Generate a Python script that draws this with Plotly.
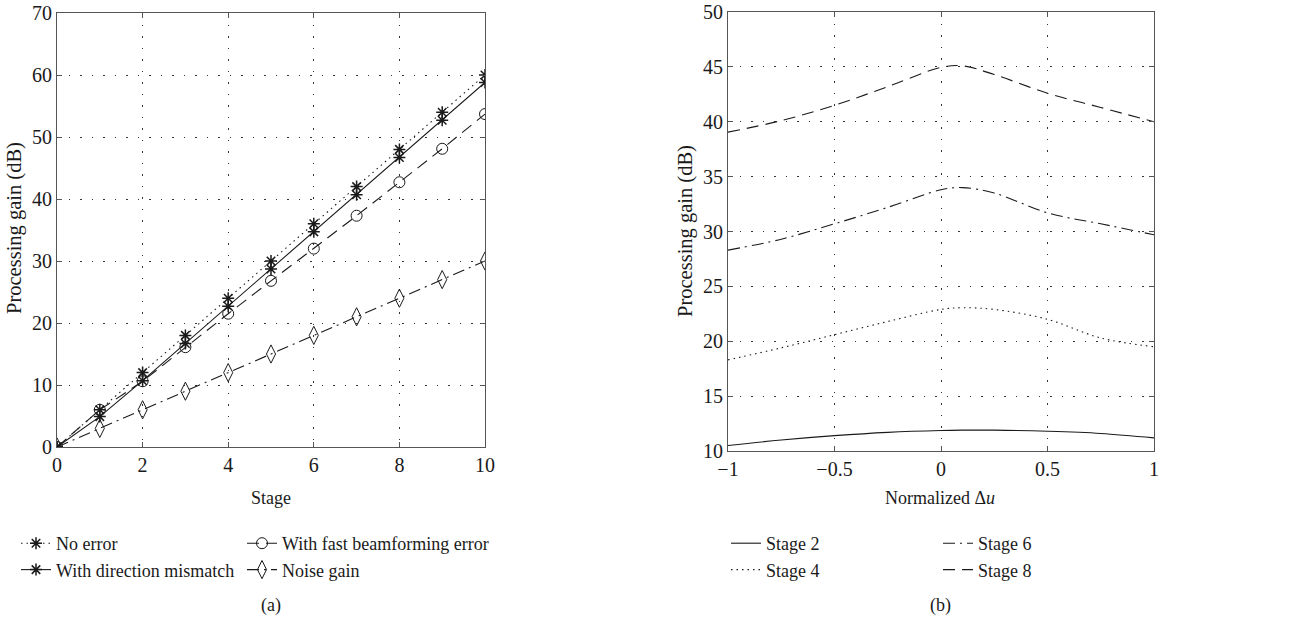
import plotly.graph_objects as go

# ---------- data (a) ----------
stage = [0, 1, 2, 3, 4, 5, 6, 7, 8, 9, 10]
no_error = [0, 6, 12, 18, 24, 30, 36, 42, 48, 54, 60]
dir_mismatch = [0, 4.9, 10.7, 16.7, 22.7, 28.7, 34.7, 40.7, 46.7, 52.7, 58.8]
fast_bf = [0, 6.0, 10.6, 16.1, 21.5, 26.8, 32.0, 37.3, 42.7, 48.1, 53.7]
noise_gain = [0, 3, 6, 9, 12, 15, 18, 21, 24, 27, 30]

# ---------- data (b) ----------
du = [-1, -0.75, -0.5, -0.25, 0, 0.1, 0.25, 0.5, 0.75, 1]
stage2 = [10.5, 11.0, 11.4, 11.7, 11.87, 11.9, 11.9, 11.8, 11.6, 11.2]
stage4 = [18.3, 19.4, 20.6, 21.8, 22.9, 23.05, 22.9, 22.0, 20.3, 19.5]
stage6 = [28.3, 29.3, 30.7, 32.2, 33.8, 34.0, 33.5, 31.7, 30.7, 29.7]
stage8 = [39.05, 40.1, 41.5, 43.2, 44.95, 45.1, 44.3, 42.6, 41.3, 40.0]

W, H = 1299, 632
FONT = "Liberation Serif"
BLK = "#1a1a1a"

DOT = "1.5px,4px"
DASH = "12px,7px"
DASHDOT = "12px,5px,2px,5px"


def px_x(p):
    return p / W


def px_y(p):
    return 1 - p / H


fig = go.Figure()

lw = 1.1
fig.add_trace(go.Scatter(x=stage, y=no_error, name="No error", mode="lines+markers",
                         line=dict(color=BLK, width=lw, dash=DOT),
                         marker=dict(symbol="asterisk-open", size=10, line=dict(color=BLK, width=1.5)),
                         xaxis="x", yaxis="y", legend="legend"))
fig.add_trace(go.Scatter(x=stage, y=dir_mismatch, name="With direction mismatch", mode="lines+markers",
                         line=dict(color=BLK, width=lw, dash="solid"),
                         marker=dict(symbol="asterisk-open", size=10, line=dict(color=BLK, width=1.5)),
                         xaxis="x", yaxis="y", legend="legend"))
fig.add_trace(go.Scatter(x=stage, y=fast_bf, name="With fast beamforming error", mode="lines+markers",
                         line=dict(color=BLK, width=lw, dash=DASH),
                         marker=dict(symbol="circle-open", size=11, color=BLK, line=dict(color=BLK, width=1)),
                         xaxis="x", yaxis="y", legend="legend2"))
fig.add_trace(go.Scatter(x=stage, y=noise_gain, name="Noise gain", mode="lines+markers",
                         line=dict(color=BLK, width=lw, dash=DASHDOT),
                         marker=dict(symbol="diamond-tall-open", size=13, color=BLK, line=dict(color=BLK, width=1)),
                         xaxis="x", yaxis="y", legend="legend2"))

fig.add_trace(go.Scatter(x=du, y=stage2, name="Stage 2", mode="lines", line_shape="spline",
                         line=dict(color=BLK, width=lw, dash="solid"),
                         xaxis="x2", yaxis="y2", legend="legend3"))
fig.add_trace(go.Scatter(x=du, y=stage4, name="Stage 4", mode="lines", line_shape="spline",
                         line=dict(color=BLK, width=lw, dash=DOT),
                         xaxis="x2", yaxis="y2", legend="legend3"))
fig.add_trace(go.Scatter(x=du, y=stage6, name="Stage 6", mode="lines", line_shape="spline",
                         line=dict(color=BLK, width=lw, dash=DASHDOT),
                         xaxis="x2", yaxis="y2", legend="legend4"))
fig.add_trace(go.Scatter(x=du, y=stage8, name="Stage 8", mode="lines", line_shape="spline",
                         line=dict(color=BLK, width=lw, dash=DASH),
                         xaxis="x2", yaxis="y2", legend="legend4"))

axis_common = dict(showline=True, linecolor="#555", linewidth=1.2, mirror="ticks",
                   ticks="inside", ticklen=5, tickcolor="#555", automargin=False,
                   ticklabeloverflow="allow",
                   showgrid=True, gridcolor="#333", griddash="1.5px,10px", gridwidth=1.2,
                   zeroline=False, tickfont=dict(family=FONT, size=20, color=BLK))

leg_common = dict(bgcolor="rgba(0,0,0,0)", font=dict(family=FONT, size=18, color=BLK),
                  orientation="v", xanchor="left", yanchor="top", tracegroupgap=0,
                  itemwidth=30, xref="container", yref="container")

fig.update_layout(
    width=W, height=H,
    margin=dict(l=0, r=0, t=0, b=0, autoexpand=False),
    paper_bgcolor="white", plot_bgcolor="white",
    font=dict(family=FONT, size=18, color=BLK),
    xaxis=dict(domain=[px_x(57), px_x(485)], range=[0, 10], dtick=2, anchor="y", **axis_common),
    yaxis=dict(domain=[px_y(447), px_y(13)], range=[0, 70], dtick=10, anchor="x", **axis_common),
    xaxis2=dict(domain=[px_x(728), px_x(1154)], range=[-1, 1], dtick=0.5, anchor="y2", **axis_common),
    yaxis2=dict(domain=[px_y(451), px_y(12)], range=[10, 50], dtick=5, anchor="x2", **axis_common),
    legend=dict(x=px_x(16), y=px_y(525), **leg_common),
    legend2=dict(x=px_x(242), y=px_y(525), **leg_common),
    legend3=dict(x=px_x(726), y=px_y(525), **leg_common),
    legend4=dict(x=px_x(938), y=px_y(525), **leg_common),
    showlegend=True,
)

ann = [
    dict(text="Stage", x=px_x(271), y=px_y(498), size=18),
    dict(text="Normalized Δ<i>u</i>", x=px_x(940), y=px_y(498), size=18),
    dict(text="(a)", x=px_x(271), y=px_y(605), size=18),
    dict(text="(b)", x=px_x(940), y=px_y(605), size=18),
    dict(text="Processing gain (dB)", x=px_x(15), y=px_y(228), textangle=-90, size=20.5),
    dict(text="Processing gain (dB)", x=px_x(686), y=px_y(231), textangle=-90, size=20.5),
]
for a in ann:
    size = a.pop("size")
    fig.add_annotation(xref="paper", yref="paper", showarrow=False,
                       xanchor="center", yanchor="middle",
                       font=dict(family=FONT, size=size, color=BLK), **a)

fig.write_html("out.html", config={"displayModeBar": False},
               post_script="document.body.style.margin='0px';")
